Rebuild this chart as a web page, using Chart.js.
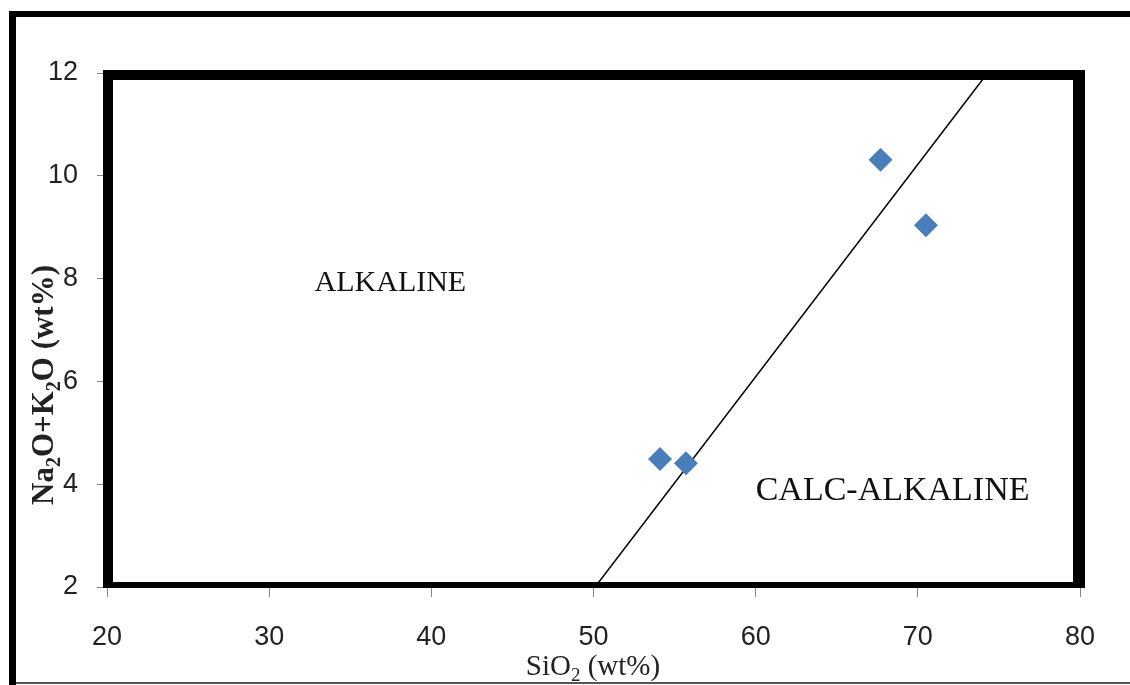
<!DOCTYPE html>
<html>
<head>
<meta charset="utf-8">
<script src="https://cdn.jsdelivr.net/npm/chart.js@4/dist/chart.umd.min.js"></script>
<style>
  html, body { margin: 0; padding: 0; background: #fff; }
  #wrap { width: 1130px; height: 685px; position: relative; }
</style>
</head>
<body>
<div id="wrap"><canvas id="tasChart" width="1130" height="685"></canvas></div>
<script>
// sample points (SiO2 vs Na2O+K2O)
const sio2 = [54.1, 55.7, 67.7, 70.5];
const alkalis = [4.49, 4.41, 10.31, 9.04];

// alkaline / calc-alkaline dividing line
const divideX = [50.1, 74.3];
const divideY = [2, 12];

// axis ranges and ticks
const xTicks = [20, 30, 40, 50, 60, 70, 80];
const yTicks = [2, 4, 6, 8, 10, 12];

// field labels
const fieldNames = ['ALKALINE', 'CALC-ALKALINE'];
const fieldX = [32.8, 60.0];
const fieldY = [7.91, 3.87];

const ctx = document.getElementById('tasChart').getContext('2d');

// draws text with subscript pieces, parts = [[text, isSub], ...]
function drawRuns(c, parts, size, weight, x, y, align) {
  const subSize = Math.round(size * 0.65);
  let total = 0;
  parts.forEach(p => {
    c.font = weight + ' ' + (p[1] ? subSize : size) + 'px "Liberation Serif", "Times New Roman", serif';
    total += c.measureText(p[0]).width;
  });
  let cx = align === 'center' ? x - total / 2 : x;
  c.textAlign = 'left';
  c.textBaseline = 'alphabetic';
  parts.forEach(p => {
    c.font = weight + ' ' + (p[1] ? subSize : size) + 'px "Liberation Serif", "Times New Roman", serif';
    c.fillText(p[0], cx, p[1] ? y + size * 0.22 : y);
    cx += c.measureText(p[0]).width;
  });
}

const labelSizes = [30, 34];

const decor = {
  id: 'decor',
  beforeDatasetsDraw(chart) {
    const c = chart.ctx;
    const a = chart.chartArea;
    c.save();
    // thick frame around the plot
    c.fillStyle = '#000';
    c.beginPath();
    c.rect(a.left - 4, a.top - 3, (a.right + 5) - (a.left - 4), (a.bottom + 1) - (a.top - 3));
    c.rect(a.left + 6, a.top + 7, (a.right - 7) - (a.left + 6), (a.bottom - 5) - (a.top + 7));
    c.fill('evenodd');
    c.restore();
  },
  afterDraw(chart) {
    const c = chart.ctx;
    const xs = chart.scales.x, ys = chart.scales.y;
    c.save();
    // outer page border
    c.fillStyle = '#000';
    c.fillRect(9, 11, 7, 674);
    c.fillRect(9, 11, 1121, 6);
    c.fillStyle = '#555';
    c.fillRect(16, 682, 1114, 2);

    // field labels
    c.fillStyle = '#111';
    c.textAlign = 'left';
    c.textBaseline = 'middle';
    fieldNames.forEach((t, i) => {
      c.font = labelSizes[i] + 'px "Liberation Serif", "Times New Roman", serif';
      c.fillText(t, xs.getPixelForValue(fieldX[i]), ys.getPixelForValue(fieldY[i]));
    });

    // axis titles
    c.fillStyle = '#222';
    drawRuns(c, [['SiO', 0], ['2', 1], [' (wt%)', 0]], 29, 'normal', 593, 675, 'center');
    c.translate(53, 385);
    c.rotate(-Math.PI / 2);
    drawRuns(c, [['Na', 0], ['2', 1], ['O+K', 0], ['2', 1], ['O (wt%)', 0]], 31, 'bold', 0, 0, 'center');
    c.restore();
  }
};

const tickFont = { family: '"Liberation Sans", Arial, sans-serif', size: 27 };

new Chart(ctx, {
  type: 'scatter',
  data: {
    datasets: [
      {
        label: 'samples',
        data: sio2.map((v, i) => ({ x: v, y: alkalis[i] })),
        pointStyle: 'rectRot',
        pointRadius: 12,
        pointHoverRadius: 12,
        backgroundColor: '#4A7EBB',
        borderColor: '#4A7EBB',
        borderWidth: 0
      },
      {
        type: 'line',
        label: 'divide',
        data: divideX.map((v, i) => ({ x: v, y: divideY[i] })),
        borderColor: '#000',
        borderWidth: 1.5,
        pointRadius: 0,
        fill: false
      }
    ]
  },
  options: {
    responsive: false,
    animation: false,
    devicePixelRatio: 1,
    layout: { padding: { left: 0, top: 73, right: 50, bottom: 0 } },
    plugins: { legend: { display: false }, tooltip: { enabled: false } },
    scales: {
      x: {
        type: 'linear',
        min: xTicks[0],
        max: xTicks[xTicks.length - 1],
        afterBuildTicks: s => { s.ticks = xTicks.map(v => ({ value: v })); },
        afterFit: s => { s.height = 98; },
        grid: { drawOnChartArea: false, tickLength: 10, color: '#868686' },
        border: { color: '#868686', width: 1 },
        ticks: { font: tickFont, color: '#222', padding: 24, maxRotation: 0 }
      },
      y: {
        type: 'linear',
        min: yTicks[0],
        max: yTicks[yTicks.length - 1],
        afterBuildTicks: s => { s.ticks = yTicks.map(v => ({ value: v })); },
        afterFit: s => { s.width = 107; },
        grid: { drawOnChartArea: false, tickLength: 10, color: '#868686' },
        border: { color: '#868686', width: 1 },
        ticks: { font: tickFont, color: '#222', padding: 19 }
      }
    }
  },
  plugins: [decor]
});
</script>
</body>
</html>
